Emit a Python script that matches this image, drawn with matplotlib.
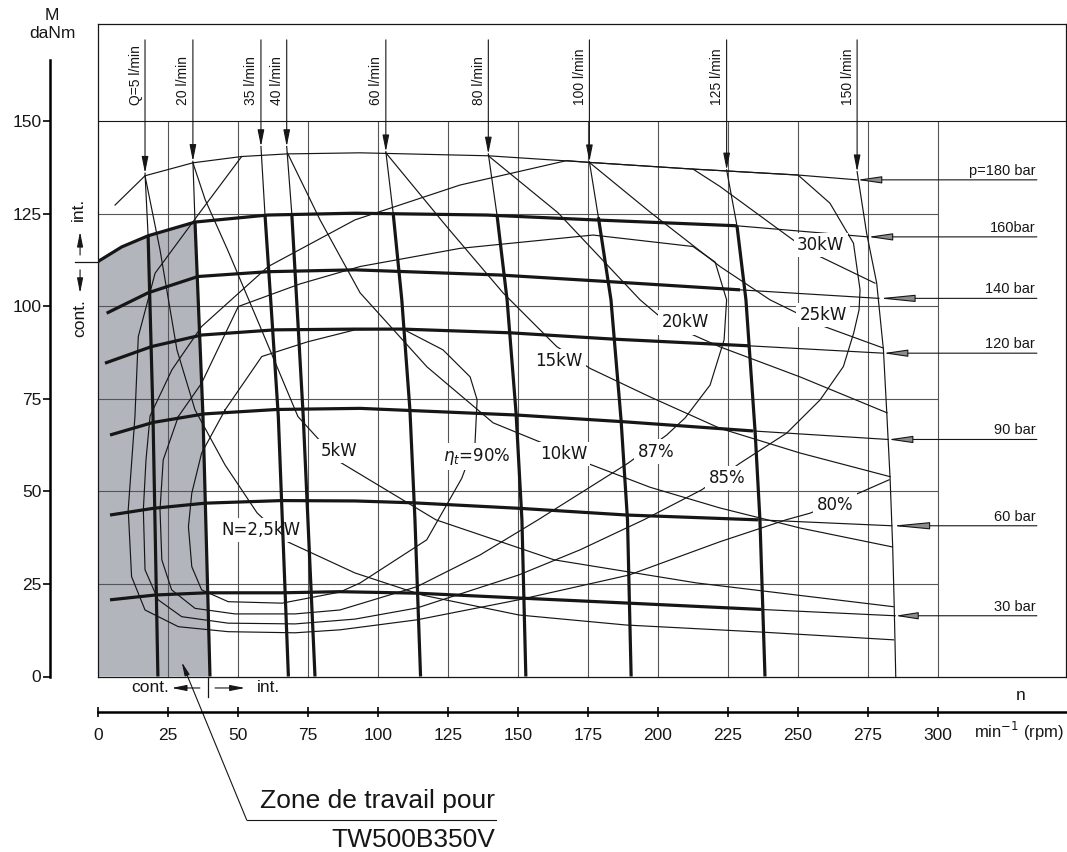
import matplotlib.pyplot as plt
from matplotlib.lines import Line2D

plt.rcParams['font.family'] = ['Liberation Sans', 'DejaVu Sans']

# n in min-1, M in daNm, all read off the chart
# pressure curves (last point = tip of the pointer arrow)
p180_n = [6.2, 16.9, 34.0, 51.4, 67.5, 93.7, 139.4, 175.8, 212.6, 222.3, 250.1, 271.2]
p180_M = [127.3, 135.2, 138.7, 140.4, 141.1, 141.4, 140.6, 138.8, 137.0, 136.6, 135.4, 134.1]
p160_n = [0.0, 8.6, 18.0, 34.75, 60.8, 91.9, 138.9, 176.9, 228.2, 275.1]
p160_M = [112.0, 116.0, 119.0, 122.7, 124.6, 125.1, 124.6, 123.3, 121.7, 118.7]
p140_n = [3.2, 18.0, 35.8, 60.8, 91.9, 143.7, 183.0, 229.4, 279.0]
p140_M = [98.1, 103.6, 108.0, 109.3, 109.8, 108.4, 106.6, 104.4, 102.1]
p120_n = [2.6, 19.3, 37.1, 63.3, 91.9, 109.0, 147.3, 184.0, 232.3, 280.5]
p120_M = [84.6, 89.1, 92.2, 93.6, 93.8, 93.8, 92.8, 91.1, 89.3, 87.3]
p90_n = [4.4, 19.8, 38.0, 64.0, 93.7, 149.6, 187.6, 234.0, 282.3]
p90_M = [65.2, 68.6, 70.9, 72.1, 72.4, 70.6, 68.8, 66.3, 64.0]
p60_n = [4.4, 19.8, 38.3, 65.7, 91.9, 112.6, 150.8, 188.9, 235.8, 283.6]
p60_M = [43.6, 45.4, 46.8, 47.5, 47.4, 46.9, 45.4, 43.6, 42.3, 40.7]
p30_n = [4.4, 20.5, 38.9, 65.7, 86.5, 114.0, 152.9, 189.8, 237.0, 284.8]
p30_M = [20.7, 22.0, 22.6, 22.6, 22.9, 22.5, 21.1, 19.8, 18.1, 16.4]
pressure_labels = ['p=180 bar', '160bar', '140 bar', '120 bar', '90 bar', '60 bar', '30 bar']

# flow lines (first point = arrow tip, second = on the 160 bar curve)
q5_n = [16.9, 18.0, 19.75, 21.5]
q5_M = [135.9, 119.0, 70.2, 0.0]
q20_n = [34.0, 34.75, 37.6, 40.1]
q20_M = [139.1, 122.7, 70.2, 0.0]
q35_n = [58.3, 59.75, 62.25, 64.5, 68.1]
q35_M = [143.1, 124.6, 96.3, 70.2, 0.0]
q40_n = [67.5, 69.3, 73.4, 77.6]
q40_M = [143.1, 125.1, 70.2, 0.0]
q60_n = [102.9, 105.5, 108.6, 111.5, 113.3, 115.3]
q60_M = [141.7, 125.2, 101.7, 72.0, 42.3, 0.0]
q80_n = [139.5, 142.6, 146.2, 149.4, 151.5, 152.9]
q80_M = [141.1, 124.6, 101.7, 71.2, 42.3, 0.0]
q100_n = [175.6, 178.8, 183.3, 186.9, 189.2, 190.5]
q100_M = [139.0, 124.0, 101.7, 69.3, 42.3, 0.0]
q125_n = [224.6, 228.3, 231.5, 234.8, 236.5, 238.3]
q125_M = [136.8, 121.7, 101.7, 65.8, 42.3, 0.0]
q150_n = [271.2, 274.6, 278.2, 280.6, 281.8, 283.0, 283.9, 284.4, 285.0]
q150_M = [136.3, 119.7, 106.2, 88.2, 71.1, 53.1, 35.1, 20.7, 0.0]
flow_labels = ['Q=5 l/min', '20 l/min', '35 l/min', '40 l/min', '60 l/min',
               '80 l/min', '100 l/min', '125 l/min', '150 l/min']

# power curves
kw2_n = [16.9, 22.25, 28.3, 34.75, 45.5, 56.9, 68.0, 91.9, 115.8, 150.5, 188.7, 236.9, 284.2]
kw2_M = [135.2, 115.2, 88.2, 72.0, 57.1, 44.2, 36.3, 27.95, 22.0, 16.6, 13.9, 12.0, 9.9]
kw5_n = [34.0, 38.4, 46.5, 58.0, 71.5, 80.1, 86.5, 120.8, 163.0, 214.0, 284.1]
kw5_M = [138.7, 128.7, 115.0, 94.5, 70.2, 63.05, 57.9, 42.3, 31.5, 25.25, 18.85]
kw10_n = [67.8, 79.4, 93.7, 117.6, 141.2, 158.0, 174.75, 197.25, 222.25, 250.8, 283.7]
kw10_M = [141.3, 123.3, 103.6, 83.6, 68.5, 63.3, 57.6, 51.1, 45.5, 40.1, 35.0]
kw15_n = [102.9, 124.6, 144.75, 163.9, 175.8, 197.25, 222.25, 250.8, 283.0]
kw15_M = [141.4, 121.5, 103.6, 89.1, 83.2, 75.5, 67.0, 60.35, 53.95]
kw20_n = [139.5, 164.4, 193.7, 200.1, 209.75, 222.25, 250.8, 281.9]
kw20_M = [140.6, 125.2, 101.7, 97.6, 93.2, 89.0, 80.9, 71.2]
kw25_n = [175.6, 197.25, 222.25, 240.1, 249.0, 258.0, 280.5]
kw25_M = [138.8, 125.4, 110.7, 101.7, 98.4, 94.9, 88.7]
kw30_n = [212.6, 222.25, 248.3, 256.8, 277.6]
kw30_M = [137.0, 132.3, 117.9, 113.8, 106.2]
power_labels = ['N=2,5kW', '5kW', '10kW', '15kW', '20kW', '25kW', '30kW']
power_label_n = [58.25, 86.2, 166.3, 164.75, 209.75, 259.1, 258.25]
power_label_M = [39.6, 60.9, 60.1, 85.2, 95.6, 97.6, 116.5]

# total efficiency contours (90, 87, 85 closed; 80 open)
e90_n = [45.5, 58.6, 75.1, 91.9, 109.0, 123.3, 133.0, 135.5, 134.75, 130.0, 117.5, 93.7,
         86.5, 65.8, 46.6, 37.1, 33.6, 32.4, 33.6, 37.1]
e90_M = [72.0, 86.4, 90.4, 93.6, 93.8, 88.2, 80.9, 74.7, 63.1, 53.5, 36.9, 25.25,
         22.8, 19.8, 20.2, 23.4, 29.65, 40.45, 49.5, 60.3]
e87_n = [28.8, 37.1, 50.2, 72.25, 93.7, 129.4, 176.9, 212.6, 220.5, 224.6, 223.7, 218.7,
         209.75, 203.2, 189.4, 157.25, 136.5, 114.0, 86.5, 70.5, 49.0, 34.75, 26.4, 22.9,
         22.25, 23.4]
e87_M = [70.2, 79.2, 99.9, 106.0, 110.7, 115.6, 119.2, 116.1, 111.9, 101.7, 90.9, 78.7,
         69.8, 65.2, 57.6, 42.3, 32.8, 24.25, 17.96, 16.9, 16.9, 18.4, 23.4, 31.5,
         45.0, 58.5]
e85_n = [16.3, 17.25, 18.7, 26.5, 37.1, 60.9, 91.9, 129.4, 167.5, 175.8, 212.6, 222.3,
         250.1, 261.5, 269.9, 272.25, 271.9, 270.0, 266.3, 258.0, 246.1, 229.4, 215.7,
         195.0, 172.25, 150.3, 114.0, 91.9, 70.5, 46.6, 30.0, 21.6, 16.9]
e85_M = [45.0, 58.5, 70.35, 82.8, 94.5, 110.7, 123.3, 132.7, 139.3, 138.8, 137.0, 136.6,
         135.4, 127.8, 117.0, 104.4, 99.0, 92.8, 83.7, 74.7, 65.75, 57.6, 50.4,
         42.3, 34.2, 27.4, 18.5, 15.5, 14.2, 14.4, 16.15, 20.7, 28.8]
e80_n = [51.4, 35.8, 20.5, 14.5, 13.3, 10.9, 12.1, 16.9, 28.8, 46.6, 70.5, 86.5, 114.0,
         150.3, 189.75, 222.25, 245.8, 254.4, 271.9, 282.6]
e80_M = [140.4, 124.6, 108.9, 91.8, 70.2, 45.0, 26.95, 17.96, 13.45, 12.1, 11.8, 12.6, 15.3,
         20.7, 27.4, 36.4, 42.3, 44.1, 49.55, 53.1]
eff_labels = [r'$\eta_t$=90%', '87%', '85%', '80%']
eff_label_n = [135.4, 199.3, 224.75, 263.3]
eff_label_M = [59.4, 60.7, 53.6, 46.3]

grid_n = [25, 50, 75, 100, 125, 150, 175, 200, 225, 250, 275, 300]
grid_M = [25, 50, 75, 100, 125]
ruler_n = [0, 25, 50, 75, 100, 125, 150, 175, 200, 225, 250, 275, 300]
ruler_M = [0, 25, 50, 75, 100, 125, 150]

W, H = 1067, 852
fig = plt.figure(figsize=(W / 100, H / 100), dpi=100)


def fx(px):
    return px / W


def fy(py):
    return 1 - py / H


ink = '#161616'
thin = 0.85
thick = 2.3

ax = fig.add_axes([fx(97.7), fy(676.5), fx(1066) - fx(97.7), fy(24.3) - fy(676.5)])
ax.set_xlim(0, 345.8)
ax.set_ylim(0, 176.1)
ax.set_xticks([])
ax.set_yticks([])
for s in ax.spines.values():
    s.set_linewidth(0.9)
    s.set_color(ink)

# grid
ax.vlines(grid_n, 0, ruler_M[-1], color='#555555', lw=0.8, zorder=1)
ax.hlines(grid_M, 0, grid_n[-1], color='#555555', lw=0.8, zorder=1)
ax.axhline(ruler_M[-1], color=ink, lw=0.8, zorder=1)

# working zone
k = p160_n.index(q20_n[1])
zone_n = [0] + p160_n[:k + 1] + q20_n[2:]
zone_M = [0] + p160_M[:k + 1] + q20_M[2:]
ax.fill(zone_n, zone_M, color='#b2b6bc', lw=0, zorder=0.5)

# pressure curves
pressures = [(p180_n, p180_M), (p160_n, p160_M), (p140_n, p140_M), (p120_n, p120_M),
             (p90_n, p90_M), (p60_n, p60_M), (p30_n, p30_M)]
pointer_len = [1.5, 1.5, 2.2, 1.5, 1.5, 2.3, 1.4]
label_end = 334.8
for i, (n, M) in enumerate(pressures):
    if i == 0:
        ax.plot(n, M, color=ink, lw=thin, zorder=2)
    else:
        ax.plot(n[:-1], M[:-1], color=ink, lw=thick, zorder=4, solid_capstyle='butt')
        ax.plot(n[-2:], M[-2:], color=ink, lw=thin, zorder=2)
    ax.annotate('', xy=(n[-1], M[-1]), xytext=(label_end + 0.6, M[-1]),
                arrowprops=dict(arrowstyle='-|>,head_length=%.2f,head_width=0.22' % pointer_len[i],
                                fc='#8c8c8c', ec=ink, lw=0.8, shrinkA=0, shrinkB=0),
                zorder=5)
    ax.text(label_end, M[-1] + 1.4, pressure_labels[i], ha='right', va='baseline',
            fontsize=10.5, color=ink)

# flow lines
flows = [(q5_n, q5_M), (q20_n, q20_M), (q35_n, q35_M), (q40_n, q40_M), (q60_n, q60_M),
         (q80_n, q80_M), (q100_n, q100_M), (q125_n, q125_M), (q150_n, q150_M)]
for i, (n, M) in enumerate(flows):
    if i == len(flows) - 1:
        ax.plot(n, M, color=ink, lw=thin, zorder=2)
    else:
        ax.plot(n[:2], M[:2], color=ink, lw=thin, zorder=2)
        ax.plot(n[1:], M[1:], color=ink, lw=thick, zorder=4, solid_capstyle='butt')
    ax.annotate('', xy=(n[0], M[0]), xytext=(n[0], 171.9),
                arrowprops=dict(arrowstyle='-|>,head_length=1.0,head_width=0.2',
                                fc=ink, ec=ink, lw=0.8, shrinkA=0, shrinkB=0),
                zorder=5)
    ax.text(n[0] - 0.9, 154.3, flow_labels[i], rotation=90, ha='right', va='bottom',
            fontsize=10, color=ink)

# power curves
for n, M in [(kw2_n, kw2_M), (kw5_n, kw5_M), (kw10_n, kw10_M), (kw15_n, kw15_M),
             (kw20_n, kw20_M), (kw25_n, kw25_M), (kw30_n, kw30_M)]:
    ax.plot(n, M, color=ink, lw=thin, zorder=2)

# efficiency contours
for n, M in [(e90_n, e90_M), (e87_n, e87_M), (e85_n, e85_M)]:
    ax.plot(n + n[:1], M + M[:1], color=ink, lw=thin, zorder=2)
ax.plot(e80_n, e80_M, color=ink, lw=thin, zorder=2)

box = dict(boxstyle='square,pad=0.2', fc='white', ec='none')
for lab, n, M in zip(power_labels + eff_labels, power_label_n + eff_label_n,
                     power_label_M + eff_label_M):
    ax.text(n, M, lab, ha='center', va='center', fontsize=12, color=ink,
            family='DejaVu Sans', bbox=box, zorder=3.5)

# cont. / int. markers
arr = dict(arrowstyle='-|>,head_length=0.9,head_width=0.18', fc=ink, ec=ink, lw=0.8,
           shrinkA=0, shrinkB=0)
ax.plot([-8.1, 0], [p160_M[0], p160_M[0]], color=ink, lw=0.9, clip_on=False)
ax.annotate('', xy=(-6.3, 120.1), xytext=(-6.3, 113.8), arrowprops=arr, annotation_clip=False)
ax.annotate('', xy=(-6.3, 103.5), xytext=(-6.3, 109.8), arrowprops=arr, annotation_clip=False)
ax.text(-6.9, 126.2, 'int.', rotation=90, ha='center', va='center', fontsize=12.5, color=ink)
ax.text(-6.3, 96.8, 'cont.', rotation=90, ha='center', va='center', fontsize=12.5, color=ink)

ax.plot([q20_n[-1] - 0.6, q20_n[-1] - 0.6], [-0.4, -5.5], color=ink, lw=0.9, clip_on=False)
ax.annotate('', xy=(26.4, -3.1), xytext=(36.5, -3.1), arrowprops=arr, annotation_clip=False)
ax.annotate('', xy=(52.6, -3.1), xytext=(41.9, -3.1), arrowprops=arr, annotation_clip=False)
ax.text(18.7, -3.1, 'cont.', ha='center', va='center', fontsize=12.5, color=ink)
ax.text(60.9, -3.1, 'int.', ha='center', va='center', fontsize=12.5, color=ink)

# zone callout
ax.annotate('', xy=(30.0, 3.9), xytext=(246.7, H - 820), textcoords='figure pixels',
            arrowprops=dict(arrowstyle='-|>,head_length=0.8,head_width=0.15', fc=ink, ec=ink,
                            lw=0.8, shrinkA=0, shrinkB=0),
            annotation_clip=False)
fig.add_artist(Line2D([fx(246.7), fx(496)], [fy(820), fy(820)], color=ink, lw=0.8,
                      transform=fig.transFigure))
fig.text(fx(495), fy(808), 'Zone de travail pour', ha='right', va='baseline', fontsize=19,
         color=ink)
fig.text(fx(495), fy(847), 'TW500B350V', ha='right', va='baseline', fontsize=19, color=ink)

# left ruler (M)
axl = fig.add_axes([fx(50), fy(676.5), 0.0001, fy(60) - fy(676.5)])
axl.set_ylim(0, 166.5)
axl.set_xticks([])
axl.set_yticks(ruler_M)
for s in ['top', 'right', 'bottom']:
    axl.spines[s].set_visible(False)
axl.spines['left'].set_linewidth(1.8)
axl.tick_params(axis='y', direction='out', length=5, width=1.3, labelsize=12.5, pad=1.2,
                colors=ink)
axl.patch.set_visible(False)

# bottom ruler (n)
axb = fig.add_axes([fx(97.7), fy(712), fx(1066) - fx(97.7), 0.0001])
axb.set_xlim(0, 345.8)
axb.set_yticks([])
axb.set_xticks(ruler_n)
for s in ['top', 'right', 'left']:
    axb.spines[s].set_visible(False)
axb.spines['bottom'].set_linewidth(1.8)
axb.tick_params(axis='x', direction='inout', length=7.5, width=1.3, labelsize=12.5, pad=7.5,
                colors=ink)
axb.patch.set_visible(False)

fig.text(fx(52), fy(15), 'M', ha='center', va='center', fontsize=12.5, color=ink)
fig.text(fx(52), fy(33), 'daNm', ha='center', va='center', fontsize=12.5, color=ink)
fig.text(fx(1021), fy(695), 'n', ha='center', va='center', fontsize=12.5, color=ink)
fig.text(fx(1019), fy(731), 'min$^{-1}$ (rpm)', ha='center', va='center', fontsize=12,
         color=ink)

fig.savefig('out.png', dpi=100)
